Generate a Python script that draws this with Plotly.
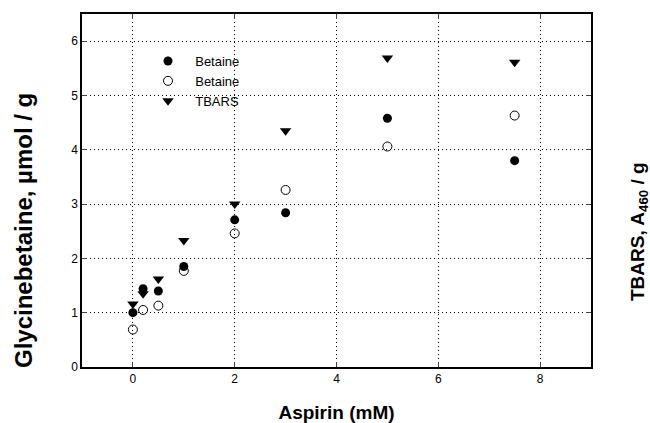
import plotly.graph_objects as go

aspirin = [0, 0.2, 0.5, 1, 2, 3, 5, 7.5]
betaine_filled = [1.00, 1.44, 1.40, 1.85, 2.71, 2.84, 4.58, 3.80]
betaine_open = [0.69, 1.05, 1.13, 1.77, 2.46, 3.26, 4.06, 4.63]
tbars = [1.16, 1.35, 1.62, 2.33, 3.00, 4.35, 5.69, 5.61]

x_ticks = [0, 2, 4, 6, 8]
y_ticks = [0, 1, 2, 3, 4, 5, 6]

FONT = "Liberation Sans, Arial, sans-serif"
PAD = "\u00a0\u00a0"

fig = go.Figure()
fig.add_trace(go.Scatter(x=aspirin, y=betaine_filled, mode="markers", name=PAD + "Betaine",
                         marker=dict(symbol="circle", size=9, color="black")))
fig.add_trace(go.Scatter(x=aspirin, y=betaine_open, mode="markers", name=PAD + "Betaine",
                         marker=dict(symbol="circle-open", size=9, color="black",
                                     line=dict(width=1, color="black"))))
fig.add_trace(go.Scatter(x=aspirin, y=tbars, mode="markers", name=PAD + "TBARS", yaxis="y2",
                         marker=dict(symbol="triangle-down", size=10, color="black")))

grid = dict(showgrid=True, gridcolor="black", griddash="1px,3px", gridwidth=1)

pl, pr, pt, pb = 82, 591, 14, 367

fig.update_layout(
    width=650, height=423,
    margin=dict(l=pl, r=650 - pr, t=pt, b=423 - pb),
    paper_bgcolor="white", plot_bgcolor="white",
    font=dict(family=FONT, color="black", size=12),
    showlegend=True,
    legend=dict(x=(148 - pl) / (pr - pl), y=(pb - 46) / (pb - pt), xanchor="left", yanchor="top",
                bgcolor="rgba(0,0,0,0)", font=dict(size=13),
                tracegroupgap=0),
    xaxis=dict(range=[-1, 9], tickvals=x_ticks, ticks="inside", ticklen=5,
               showline=True, linecolor="black", linewidth=1.5, mirror="ticks",
               zeroline=False, tickfont=dict(size=12), automargin=False,
               title=dict(text="Aspirin (mM)", font=dict(size=19, weight="bold"), standoff=21),
               **grid),
    yaxis=dict(range=[0, 6.5], tickvals=y_ticks, ticks="inside", ticklen=5,
               showline=True, linecolor="black", linewidth=1.5, mirror="ticks",
               zeroline=False, tickfont=dict(size=12), automargin=False,
               **grid),
    yaxis2=dict(range=[0, 6.5], overlaying="y", side="right", showgrid=False,
                showticklabels=False, ticks="", showline=False, zeroline=False,
                automargin=False),
    annotations=[
        dict(text="<b>Glycinebetaine, µmol / g</b>", x=(23 - pl) / (pr - pl), y=(pb - 231) / (pb - pt),
             xref="paper", yref="paper", xanchor="center", yanchor="middle",
             showarrow=False, textangle=-90, font=dict(size=24)),
        dict(text="<b>TBARS, A<sub>460</sub> / g</b>", x=(639 - pl) / (pr - pl), y=(pb - 232) / (pb - pt),
             xref="paper", yref="paper", xanchor="center", yanchor="middle",
             showarrow=False, textangle=-90, font=dict(size=19)),
    ],
)

fig.write_html("out.html", config={"displayModeBar": False},
               post_script="document.body.style.margin='0';")
